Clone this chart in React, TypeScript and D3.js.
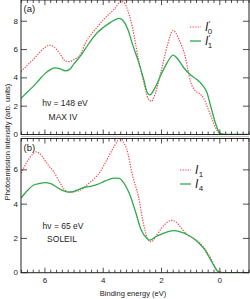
import React, { useRef, useEffect } from 'react'
import * as d3 from 'd3'

// binding energy (eV) and intensities (left to right)
const energyA0 = [6.82, 6.6, 6.4, 6.2, 6.0, 5.85, 5.7, 5.5, 5.3, 5.15, 5.0, 4.8, 4.6, 4.4, 4.2, 4.0, 3.8, 3.6, 3.4, 3.3, 3.2, 3.0, 2.8, 2.6, 2.45, 2.35, 2.2, 2.0, 1.8, 1.6, 1.4, 1.2, 1.0, 0.85, 0.7, 0.55, 0.4, 0.25, 0.1, 0.0, -0.2, -1.0]
const valuesA0 = [4.45, 4.9, 5.3, 5.75, 6.15, 6.3, 6.2, 5.75, 5.2, 5.15, 5.3, 5.6, 6.5, 7.1, 7.6, 8.1, 8.5, 8.9, 9.4, 9.35, 9.0, 7.6, 5.4, 3.6, 2.5, 2.35, 3.0, 4.6, 6.3, 7.35, 6.7, 5.6, 3.7, 3.1, 2.9, 2.55, 1.8, 1.0, 0.3, 0.05, 0, 0]

const energyA1 = [6.82, 6.6, 6.4, 6.2, 6.0, 5.8, 5.65, 5.5, 5.3, 5.15, 5.0, 4.8, 4.6, 4.4, 4.2, 4.0, 3.8, 3.6, 3.45, 3.3, 3.15, 3.0, 2.8, 2.6, 2.5, 2.4, 2.25, 2.0, 1.8, 1.6, 1.45, 1.25, 1.0, 0.8, 0.6, 0.45, 0.3, 0.15, 0.0, -0.2, -1.0]
const valuesA1 = [2.55, 3.0, 3.4, 3.85, 4.3, 4.6, 4.7, 4.65, 4.5, 4.6, 5.0, 5.5, 6.1, 6.7, 7.2, 7.55, 7.85, 8.1, 8.2, 8.0, 7.4, 6.4, 5.2, 3.8, 3.0, 2.8, 3.2, 4.3, 5.1, 5.6, 5.35, 4.75, 4.2, 3.9, 3.5, 3.0, 1.9, 0.8, 0.1, 0, 0]

const energyB1 = [6.82, 6.6, 6.4, 6.3, 6.1, 5.9, 5.7, 5.5, 5.3, 5.1, 4.9, 4.7, 4.5, 4.3, 4.1, 3.9, 3.7, 3.5, 3.4, 3.3, 3.2, 3.0, 2.8, 2.6, 2.45, 2.35, 2.2, 2.0, 1.8, 1.65, 1.5, 1.3, 1.1, 0.9, 0.7, 0.5, 0.3, 0.15, 0.0, -0.2, -1.0]
const valuesB1 = [5.8, 6.5, 6.95, 7.05, 6.8, 6.3, 5.9, 5.3, 4.8, 4.7, 4.75, 4.9, 5.2, 5.5, 5.9, 6.5, 7.15, 7.7, 7.9, 7.6, 7.25, 5.7, 4.5, 2.7, 1.9, 1.8, 2.1, 2.6, 2.95, 3.05, 2.95, 2.55, 2.2, 2.0, 1.75, 1.35, 0.8, 0.3, 0.05, 0, 0]

const energyB4 = [6.82, 6.6, 6.4, 6.2, 6.0, 5.8, 5.6, 5.4, 5.2, 5.0, 4.8, 4.6, 4.4, 4.2, 4.0, 3.8, 3.6, 3.45, 3.3, 3.1, 2.9, 2.7, 2.5, 2.4, 2.2, 2.0, 1.8, 1.55, 1.3, 1.1, 0.9, 0.7, 0.5, 0.35, 0.2, 0.05, -0.2, -1.0]
const valuesB4 = [4.35, 4.8, 5.1, 5.2, 5.25, 5.2, 5.0, 4.8, 4.7, 4.75, 4.88, 5.0, 5.05, 5.15, 5.3, 5.45, 5.52, 5.5, 5.25, 4.6, 3.6, 2.5, 2.0, 1.9, 2.1, 2.25, 2.38, 2.45, 2.35, 2.2, 2.0, 1.7, 1.3, 0.85, 0.4, 0.05, 0, 0]

const xTicks = [6, 4, 2, 0]
const yTicks = [0, 2, 4, 6, 8]

const RED = '#ee4a4e'
const GREEN = '#2eaa4c'
const FONT = 'Liberation Sans, Arial, sans-serif'

const W = 250
const H = 299

const App: React.FC = () => {
  const svgRef = useRef<SVGSVGElement>(null)

  useEffect(() => {
    const svg = d3.select(svgRef.current!)
    svg.selectAll('*').remove()

    const left = 21
    const right = 249
    const x = d3.scaleLinear().domain([6.82, -1]).range([left, right])

    const panels = [
      {
        id: 'a', top: 0, bottom: 134.5, yMax: 9.5, tag: '(a)',
        note: ['hν = 148 eV', 'MAX IV'], noteX: [65, 63], noteY: [103, 117],
        series: [
          { e: energyA0, v: valuesA0, dotted: true },
          { e: energyA1, v: valuesA1, dotted: false },
        ],
        legendY: [27, 41], legendX: 190, labels: [['′', '0'], ['′', '1']],
      },
      {
        id: 'b', top: 138.5, bottom: 272.7, yMax: 7.83, tag: '(b)',
        note: ['hν = 65 eV', 'SOLEIL'], noteX: [63, 62], noteY: [226, 239],
        series: [
          { e: energyB1, v: valuesB1, dotted: true },
          { e: energyB4, v: valuesB4, dotted: false },
        ],
        legendY: [170, 184], legendX: 180, labels: [['', '1'], ['', '4']],
      },
    ]

    // thin grey separator between the panels
    svg.append('line')
      .attr('x1', left).attr('x2', right)
      .attr('y1', 136.6).attr('y2', 136.6)
      .attr('stroke', '#bbb').attr('stroke-width', 1)

    panels.forEach((p) => {
      const y = d3.scaleLinear().domain([0, p.yMax]).range([p.bottom, p.top])
      const g = svg.append('g')

      g.append('clipPath').attr('id', `clip-${p.id}`)
        .append('rect')
        .attr('x', left).attr('y', p.top)
        .attr('width', right - left).attr('height', p.bottom - p.top)

      const line = d3.line<[number, number]>()
        .x((d) => x(d[0]))
        .y((d) => y(d[1]))
        .curve(d3.curveMonotoneX)

      p.series.forEach((s) => {
        const pts = s.e.map((e, i) => [e, s.v[i]] as [number, number])
        g.append('path')
          .attr('clip-path', `url(#clip-${p.id})`)
          .attr('d', line(pts)!)
          .attr('fill', 'none')
          .attr('stroke', s.dotted ? RED : GREEN)
          .attr('stroke-width', s.dotted ? 1.2 : 1.3)
          .attr('stroke-dasharray', s.dotted ? '1.3,1.3' : null)
      })

      // frame
      g.append('rect')
        .attr('x', left).attr('y', p.top)
        .attr('width', right - left).attr('height', p.bottom - p.top)
        .attr('fill', 'none').attr('stroke', '#222').attr('stroke-width', 1)

      // x ticks, top and bottom, inward
      const minor = d3.range(-1, 6.81, 0.2).map((d) => Math.round(d * 10) / 10)
      minor.forEach((d) => {
        const major = Math.abs(d % 2) < 1e-6
        const len = major ? 5 : 3
        const xx = x(d)
        g.append('line').attr('x1', xx).attr('x2', xx)
          .attr('y1', p.bottom).attr('y2', p.bottom - len)
          .attr('stroke', '#222').attr('stroke-width', 0.8)
        g.append('line').attr('x1', xx).attr('x2', xx)
          .attr('y1', p.top).attr('y2', p.top + len)
          .attr('stroke', '#222').attr('stroke-width', 0.8)
      })

      // y ticks, both sides
      yTicks.filter((t) => t < p.yMax).forEach((t) => {
        g.append('line').attr('x1', left).attr('x2', left + 6)
          .attr('y1', y(t)).attr('y2', y(t))
          .attr('stroke', '#222').attr('stroke-width', 0.8)
        g.append('line').attr('x1', right).attr('x2', right - 6)
          .attr('y1', y(t)).attr('y2', y(t))
          .attr('stroke', '#222').attr('stroke-width', 0.8)
        g.append('text')
          .attr('x', left - 3).attr('y', y(t))
          .attr('text-anchor', 'end').attr('dominant-baseline', 'central')
          .style('font-family', FONT).style('font-size', '8px').attr('fill', '#222')
          .text(t)
      })

      g.append('text')
        .attr('x', left + 2.5).attr('y', p.top + 12)
        .style('font-family', FONT).style('font-size', '9.5px').attr('fill', '#222')
        .text(p.tag)

      p.note.forEach((txt, i) => {
        g.append('text')
          .attr('x', p.noteX[i]).attr('y', p.noteY[i])
          .attr('text-anchor', 'middle').attr('dominant-baseline', 'central')
          .style('font-family', FONT).style('font-size', '8.5px').attr('fill', '#222')
          .text(txt)
      })

      // legend
      p.series.forEach((s, i) => {
        const ly = p.legendY[i]
        g.append('line')
          .attr('x1', p.legendX).attr('x2', p.legendX + 11)
          .attr('y1', ly).attr('y2', ly)
          .attr('stroke', s.dotted ? RED : GREEN)
          .attr('stroke-width', s.dotted ? 1.2 : 1.3)
          .attr('stroke-dasharray', s.dotted ? '1.3,1.3' : null)
        const [sup, sub] = p.labels[i]
        const t = g.append('text')
          .attr('x', p.legendX + 15).attr('y', ly + 4)
          .style('font-family', FONT).attr('fill', '#222')
        t.append('tspan').style('font-size', '12px').style('font-style', 'italic').text('I')
        if (sup) {
          t.append('tspan').style('font-size', '8px').attr('dx', 0.5).attr('dy', -5).text(sup)
          t.append('tspan').style('font-size', '8px').attr('dx', -2.5).attr('dy', 8).text(sub)
        } else {
          t.append('tspan').style('font-size', '8px').attr('dx', 0.5).attr('dy', 3).text(sub)
        }
      })
    })

    // x tick labels under the bottom panel
    xTicks.forEach((t) => {
      svg.append('text')
        .attr('x', x(t)).attr('y', 280)
        .attr('text-anchor', 'middle').attr('dominant-baseline', 'central')
        .style('font-family', FONT).style('font-size', '8px').attr('fill', '#222')
        .text(t)
    })

    svg.append('text')
      .attr('x', 133).attr('y', 293)
      .attr('text-anchor', 'middle').attr('dominant-baseline', 'central')
      .style('font-family', FONT).style('font-size', '7.5px').attr('fill', '#222')
      .text('Binding energy (eV)')

    svg.append('text')
      .attr('transform', 'translate(7,142) rotate(-90)')
      .attr('text-anchor', 'middle').attr('dominant-baseline', 'central')
      .style('font-family', FONT).style('font-size', '7.5px').attr('fill', '#222')
      .text('Photoemission intensity (arb. units)')
  }, [])

  return (
    <svg
      ref={svgRef}
      width={W}
      height={H}
      viewBox={`0 0 ${W} ${H}`}
      style={{ position: 'absolute', left: 0, top: 0, background: 'white' }}
    />
  )
}

export default App
